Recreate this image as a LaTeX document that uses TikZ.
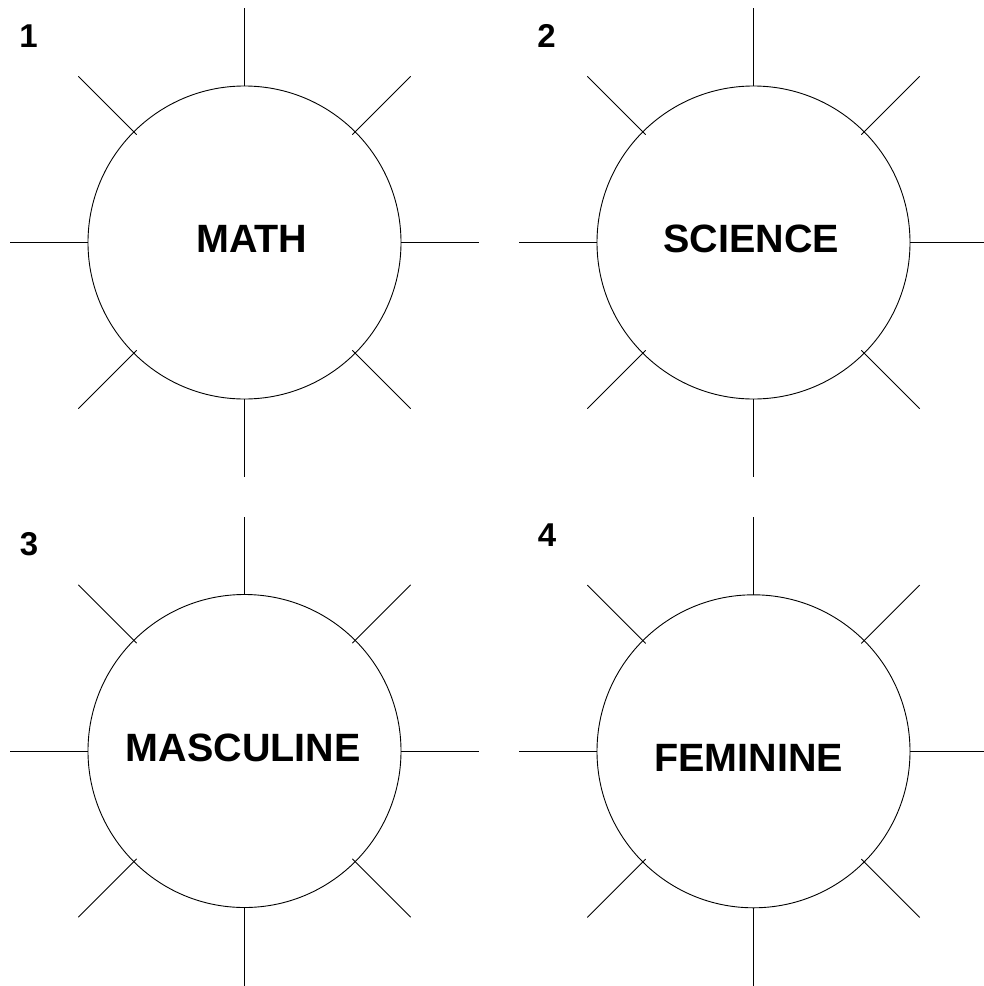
\documentclass[tikz,border=0pt]{standalone}
\usepackage{fontspec}
\setmainfont{Liberation Sans}
\usetikzlibrary{calc}
\begin{document}
\begin{tikzpicture}[x=1bp,y=-1bp,
  ring/.style={circle,draw,line width=0.9bp,minimum size=313bp,inner sep=0pt,outer sep=0pt},
  spoke/.style={line width=0.9bp},
  word/.style={font=\fontsize{39.5bp}{41bp}\selectfont\bfseries,anchor=base,inner sep=0pt},
  num/.style={font=\fontsize{33bp}{35bp}\selectfont\bfseries,anchor=base,inner sep=0pt}]
\useasboundingbox (0,0) rectangle (984,986);
\node[ring] (c1) at (244.5,242.5) {};
\node[ring] (c2) at (753.5,242.5) {};
\node[ring] (c3) at (244.5,751) {};
\node[ring] (c4) at (753.5,751.3) {};
\foreach \c in {c1,c2,c3,c4}{
  \foreach \a in {0,90,180,270}{\draw[spoke] (\c.\a) -- ($(\c.center)+(\a:234.5bp)$);}
  \foreach \a in {45,135,225,315}{\draw[spoke] ($(\c.center)+(\a:152.5bp)$) -- ($(\c.center)+(\a:235bp)$);}
}
\node[word] (t1) at (251.7,252.3) {MATH};
\node[word] (t2) at (751.3,252.5) {SCIENCE};
\node[word] (t3) at (243.3,761) {MASCULINE};
\node[word] (t4) at (748.7,771.7) {FEMININE};
\node[num] (n1) at (28.5,47) {1};
\node[num] (n2) at (546.5,47) {2};
\node[num] (n3) at (29,555) {3};
\node[num] (n4) at (547,546.7) {4};
\end{tikzpicture}
\end{document}
